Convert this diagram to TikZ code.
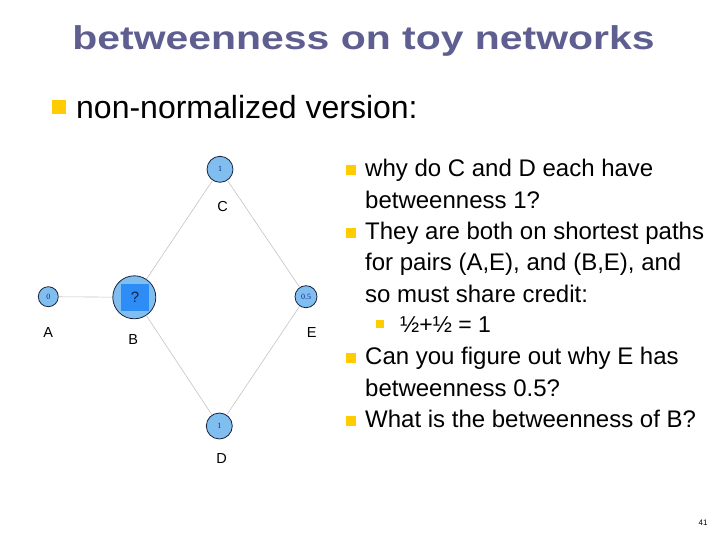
\documentclass[tikz,border=0pt]{standalone}
\usepackage{fontspec}
\setmainfont{Liberation Sans}
\newfontfamily\titlefont{Liberation Sans}[FakeStretch=1.24]
\newfontfamily\numfont{Liberation Serif}
\definecolor{titleblue}{RGB}{94,94,144}
\definecolor{bulletyellow}{RGB}{255,204,0}
\definecolor{nodefill}{RGB}{128,190,240}
\definecolor{nodeline}{RGB}{25,35,65}
\definecolor{innerblue}{RGB}{45,140,245}
\definecolor{numblue}{RGB}{20,40,140}
\definecolor{edgegray}{RGB}{195,195,195}
\begin{document}
\begin{tikzpicture}[x=1pt,y=-1pt,
  vert/.style={circle,draw=nodeline,line width=0.8pt,fill=nodefill,inner sep=0pt,
    font=\numfont\fontsize{8}{9}\selectfont,text=numblue},
  lab/.style={font=\fontsize{14.5}{16}\selectfont,inner sep=0pt},
  edge/.style={draw=edgegray,line width=0.6pt},
  bul/.style={fill=bulletyellow,inner sep=0pt,minimum size=#1},
  txt/.style={anchor=base west,inner sep=0pt,font=\fontsize{24}{28}\selectfont}]
\useasboundingbox (0,0) rectangle (720,540);
% title
\node[anchor=base,inner sep=0pt,text=titleblue,font=\titlefont\bfseries\fontsize{33}{38}\selectfont] (title) at (363.5,50) {betweenness on toy networks};
% top bullet
\node[bul=14pt] (b0) at (58.5,107) {};
\node[anchor=base west,inner sep=0pt,font=\fontsize{32}{36}\selectfont] (t0) at (76,118.5) {non-normalized version:};
% graph
\node[vert,minimum size=20pt] (A) at (48.3,296.7) {0};
\node[vert,minimum size=43pt] (B) at (134.3,297.3) {};
\node[fill=innerblue,minimum width=28pt,minimum height=27pt,inner sep=0pt,
  font=\fontsize{15}{16}\selectfont,text=nodeline] (Bq) at (135,297) {?};
\node[vert,minimum size=26pt] (C) at (220,169.3) {1};
\node[vert,minimum size=26pt] (D) at (219.3,426) {1};
\node[vert,minimum size=22pt] (E) at (306,296.7) {0.5};
\draw[edge] (A) -- (B);
\draw[edge] (B) -- (C);
\draw[edge] (B) -- (D);
\draw[edge] (C) -- (E);
\draw[edge] (D) -- (E);
\node[lab] (lA) at (48.3,332.7) {A};
\node[lab] (lB) at (133.3,340) {B};
\node[lab] (lC) at (222.7,206.7) {C};
\node[lab] (lD) at (221.7,458.3) {D};
\node[lab] (lE) at (311.7,332.7) {E};
% right text
\node[bul=10.5pt] (r1) at (351,170) {};
\node[txt] (l1) at (365,176.7) {why do C and D each have};
\node[txt] (l2) at (365,208) {betweenness 1?};
\node[bul=10.5pt] (r2) at (351,233) {};
\node[txt] (l3) at (365,239.5) {They are both on shortest paths};
\node[txt] (l4) at (365,270.8) {for pairs (A,E), and (B,E), and};
\node[txt] (l5) at (365,302) {so must share credit:};
\node[bul=8.5pt] (r3) at (380,324) {};
\node[txt,font=\fontsize{23}{26}\selectfont] (l6) at (400,332) {½+½ = 1};
\node[bul=10.5pt] (r4) at (351,358) {};
\node[txt] (l7) at (365,364.5) {Can you figure out why E has};
\node[txt] (l8) at (365,396) {betweenness 0.5?};
\node[bul=10.5pt] (r5) at (351,421) {};
\node[txt] (l9) at (365,427.3) {What is the betweenness of B?};
% page number
\node[inner sep=0pt,font=\fontsize{8}{9}\selectfont] (pg) at (703,523) {41};
\end{tikzpicture}
\end{document}
